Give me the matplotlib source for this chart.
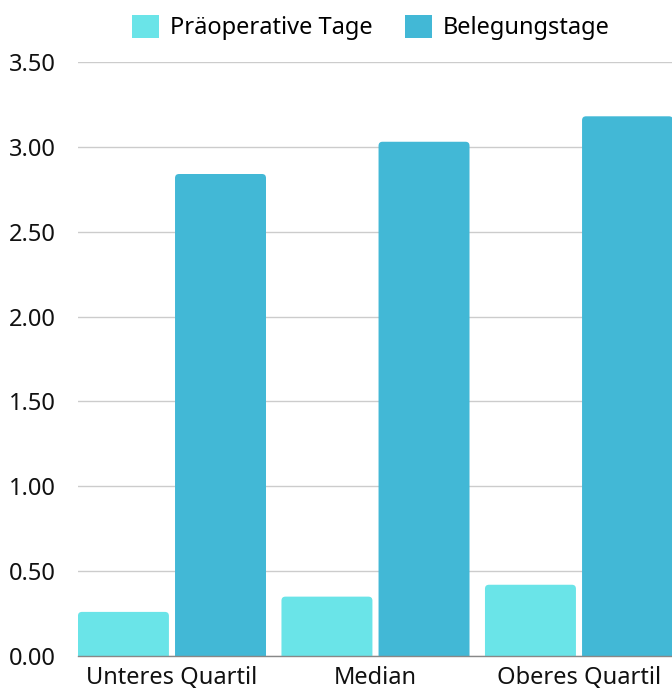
import matplotlib
matplotlib.use("agg")
import matplotlib.pyplot as plt
import numpy as np
from matplotlib.patches import FancyBboxPatch, Patch

plt.rcParams["font.family"] = ["Noto Sans", "DejaVu Sans"]

categories = ["Unteres Quartil", "Median", "Oberes Quartil"]
series_names = ["Präoperative Tage", "Belegungstage"]
praeop_tage = [0.26, 0.35, 0.42]
belegungstage = [2.84, 3.03, 3.18]
colors = ["#6ae4e8", "#42b8d6"]

fig = plt.figure(figsize=(6.72, 6.91), dpi=100)
ax = fig.add_axes([0.116, 0.0506, 0.884, 0.8597])

x = np.arange(len(categories))
width = 0.447
gap = 0.03
offset = (width + gap) / 2

bars = []
for k, (vals, col) in enumerate(zip([praeop_tage, belegungstage], colors)):
    pos = x - offset if k == 0 else x + offset
    bars.append(ax.bar(pos, vals, width=width, color=col, zorder=3))

left = -offset - width / 2
ax.set_xlim(left, left + 2.919)
ax.set_ylim(0, 3.5)

# swap the plain rectangles for ones with slightly rounded top corners
fig.canvas.draw()
px_x = ax.transData.transform((1, 0))[0] - ax.transData.transform((0, 0))[0]
px_y = ax.transData.transform((0, 1))[1] - ax.transData.transform((0, 0))[1]
radius_px = 4
rx = radius_px / px_x
ry = radius_px / px_y
for container in bars:
    for rect in container:
        x0, w, h = rect.get_x(), rect.get_width(), rect.get_height()
        rounded = FancyBboxPatch(
            (x0, -ry * 2), w, h + ry * 2,
            boxstyle=f"round,pad=0,rounding_size={rx}",
            mutation_aspect=ry / rx,
            facecolor=rect.get_facecolor(), edgecolor="none", zorder=3,
        )
        rounded.set_clip_on(True)
        ax.add_patch(rounded)
        rect.remove()

ax.set_yticks(np.arange(0, 3.51, 0.5))
ax.set_yticklabels([f"{v:.2f}" for v in np.arange(0, 3.51, 0.5)])
ax.set_xticks(x)
ax.set_xticklabels(categories)
ax.tick_params(axis="both", length=0, labelsize=17, colors="#111111")
ax.tick_params(axis="y", pad=16)
ax.tick_params(axis="x", pad=7)

ax.grid(axis="y", color="#cccccc", linewidth=1, zorder=0)
for side in ["top", "right", "left"]:
    ax.spines[side].set_visible(False)
ax.spines["bottom"].set_color("#888888")
ax.spines["bottom"].set_linewidth(1)
ax.spines["bottom"].set_zorder(4)

handles = [Patch(facecolor=c, edgecolor="none") for c in colors]
fig.legend(handles, series_names, loc="center", bbox_to_anchor=(0.552, 0.96),
           ncol=2, frameon=False, fontsize=17, handlelength=1.15, handleheight=1.15,
           handletextpad=0.45, columnspacing=1.4)

fig.savefig("out.png", dpi=100)
